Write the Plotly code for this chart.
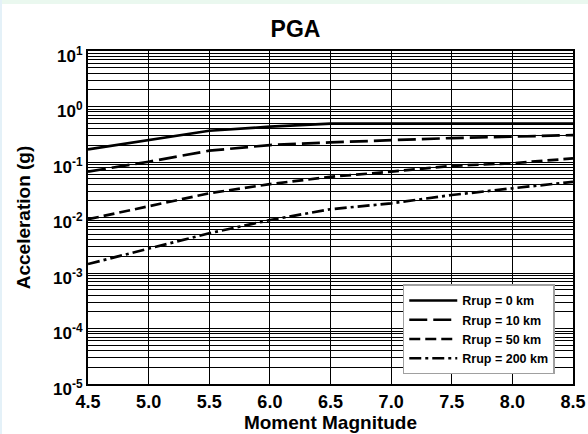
import plotly.graph_objects as go

# Moment magnitudes at which the attenuation curves are tabulated
magnitude = [4.5, 5.0, 5.5, 6.0, 6.5, 7.0, 7.5, 8.0, 8.5]

# Peak ground acceleration (g) for each rupture distance
pga_r0 = [0.169, 0.249, 0.366, 0.433, 0.49, 0.49, 0.49, 0.49, 0.49]
pga_r10 = [0.067, 0.101, 0.160, 0.202, 0.226, 0.249, 0.270, 0.286, 0.306]
pga_r50 = [0.0093, 0.0157, 0.0273, 0.040, 0.054, 0.067, 0.085, 0.095, 0.116]
pga_r200 = [0.00145, 0.00279, 0.0052, 0.0090, 0.0141, 0.018, 0.0254, 0.0336, 0.044]

series_names = ["Rrup = 0 km", "Rrup = 10 km", "Rrup = 50 km", "Rrup = 200 km"]
series_values = [pga_r0, pga_r10, pga_r50, pga_r200]
series_dash = ["solid", "18px,6px", "11px,5px", "12px,4px,3px,4px"]

x_ticks = [4.5, 5.0, 5.5, 6.0, 6.5, 7.0, 7.5, 8.0, 8.5]
x_ticktext = ["4.5", "5.0", "5.5", "6.0", "6.5", "7.0", "7.5", "8.0", "8.5"]
y_ticks = [1e1, 1e0, 1e-1, 1e-2, 1e-3, 1e-4, 1e-5]
y_ticktext = ["10<sup>1</sup>", "10<sup>0</sup>", "10<sup>-1</sup>", "10<sup>-2</sup>",
              "10<sup>-3</sup>", "10<sup>-4</sup>", "10<sup>-5</sup>"]

FONT = "Liberation Sans, Arial, sans-serif"

fig = go.Figure()
for name, vals, dash in zip(series_names, series_values, series_dash):
    fig.add_trace(go.Scatter(
        x=magnitude, y=vals, mode="lines", name=name,
        line=dict(color="black", width=2.7, dash=dash),
    ))

fig.update_layout(
    width=588, height=434,
    margin=dict(l=88, r=15, t=51, b=50),
    paper_bgcolor="white",
    plot_bgcolor="white",
    font=dict(family=FONT, color="black"),
    title=dict(text="PGA", x=0.5025, xanchor="center", y=0.934, yanchor="middle",
               font=dict(family=FONT, size=23, weight="bold")),
    showlegend=True,
    legend=dict(
        x=0.649, y=0.164, xanchor="left", yanchor="middle",
        bgcolor="white", bordercolor="#a0a0a0", borderwidth=1.5,
        font=dict(family=FONT, size=12.5, weight="bold"),
        tracegroupgap=0, itemwidth=48,
    ),
    xaxis=dict(
        range=[4.5, 8.5], tickvals=x_ticks, ticktext=x_ticktext,
        showgrid=True, gridcolor="black", gridwidth=1,
        showline=True, linecolor="black", linewidth=2, mirror=True,
        ticks="", zeroline=False, automargin=False,
        tickfont=dict(family=FONT, size=18, weight="bold"),
        title=dict(text="Moment Magnitude", standoff=1,
                   font=dict(family=FONT, size=19, weight="bold")),
    ),
    yaxis=dict(
        type="log", range=[-5, 1], tickvals=y_ticks, ticktext=y_ticktext,
        showgrid=True, gridcolor="black", gridwidth=1,
        minor=dict(showgrid=True, gridcolor="black", gridwidth=1, dtick="D1"),
        showline=True, linecolor="black", linewidth=2, mirror=True,
        ticks="", zeroline=False, automargin=False,
        ticklabelshift=5,
        tickfont=dict(family=FONT, size=17, weight="bold"),
        title=dict(text="Acceleration (g)", standoff=17,
                   font=dict(family=FONT, size=19, weight="bold")),
    ),
)

# Pale frame band along the top and left edges of the page
fig.add_shape(type="rect", xref="paper", yref="paper",
              x0=-0.1814, x1=1.031, y0=1.141, y1=1.154,
              fillcolor="#eaf8ef", line=dict(width=0), layer="below")
fig.add_shape(type="rect", xref="paper", yref="paper",
              x0=-0.1814, x1=-0.1773, y0=-0.151, y1=1.154,
              fillcolor="#e4f1f8", line=dict(width=0), layer="below")

fig.write_html("out.html")
